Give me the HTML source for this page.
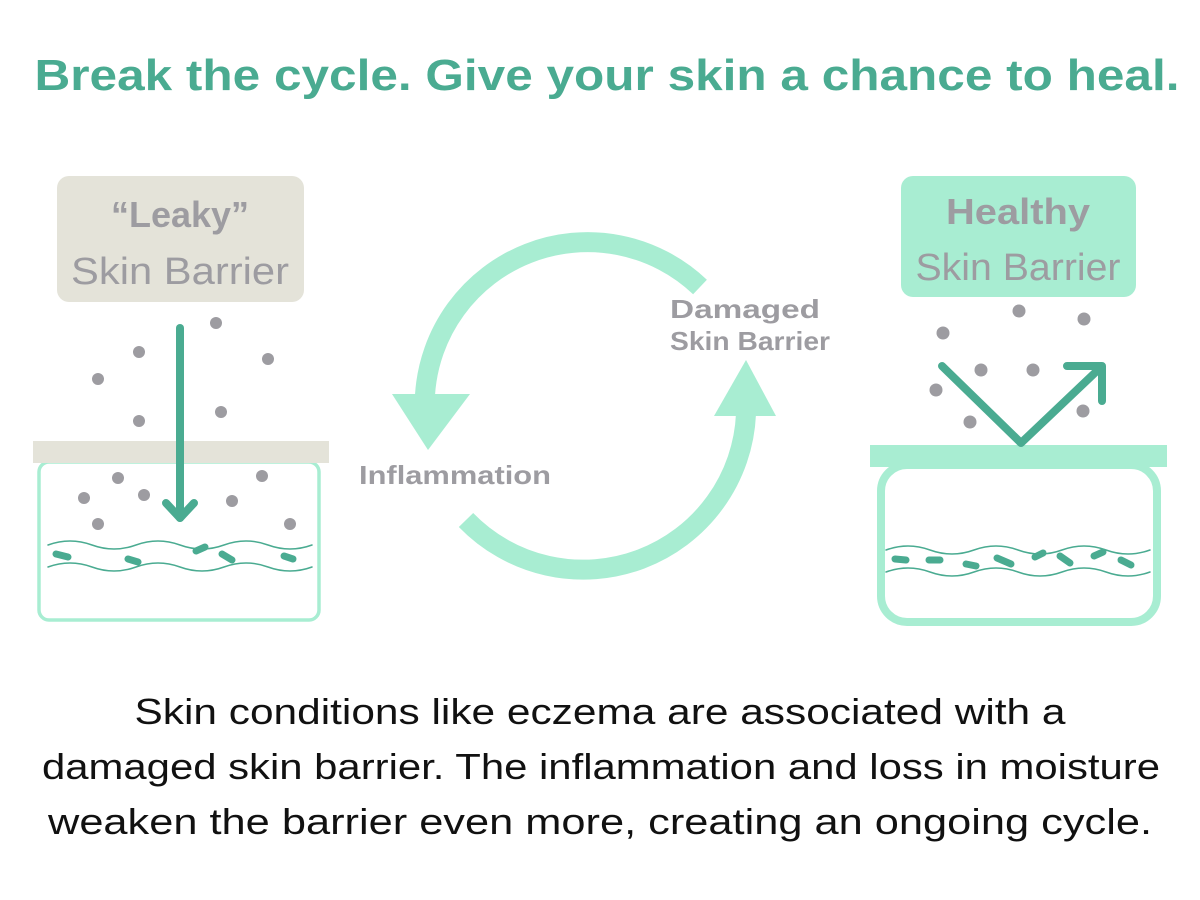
<!DOCTYPE html>
<html><head><meta charset="utf-8"><style>
html,body{margin:0;padding:0;background:#fff;}
svg{display:block;}
text{font-family:"Liberation Sans",sans-serif;}
</style></head><body>
<svg width="1200" height="900" viewBox="0 0 1200 900" xmlns="http://www.w3.org/2000/svg">
<text x="607" y="90" text-anchor="middle" font-size="44" font-weight="bold" fill="#4aab91" textLength="1145" lengthAdjust="spacingAndGlyphs">Break the cycle. Give your skin a chance to heal.</text>

<!-- Left -->
<rect x="57" y="176" width="247" height="126" rx="12" fill="#e4e3d9"/>
<text x="180" y="227" text-anchor="middle" font-size="36" font-weight="bold" fill="#9d9ca1">“Leaky”</text>
<text x="180" y="284" text-anchor="middle" font-size="38" fill="#9d9ca1" textLength="218" lengthAdjust="spacingAndGlyphs">Skin Barrier</text>
<rect x="39" y="462" width="280" height="158" rx="10" fill="none" stroke="#a8edd2" stroke-width="3.5"/>
<rect x="33" y="441" width="296" height="22" fill="#e4e3d9"/>
<g fill="#9d9ca1">
<circle cx="216" cy="323" r="6"/><circle cx="139" cy="352" r="6"/><circle cx="268" cy="359" r="6"/><circle cx="98" cy="379" r="6"/><circle cx="139" cy="421" r="6"/><circle cx="221" cy="412" r="6"/><circle cx="118" cy="478" r="6"/><circle cx="84" cy="498" r="6"/><circle cx="144" cy="495" r="6"/><circle cx="262" cy="476" r="6"/><circle cx="232" cy="501" r="6"/><circle cx="98" cy="524" r="6"/><circle cx="290" cy="524" r="6"/>
</g>
<g stroke="#4aab91" fill="none" stroke-linecap="round">
<line x1="180" y1="328" x2="180" y2="518" stroke-width="8"/>
<polyline points="166,503 180,518 194,503" stroke-width="8" stroke-linejoin="round"/>
<path d="M48,545 q22,-8 44,0 t44,0 t44,0 t44,0 t44,0 t44,0" stroke-width="1.5"/>
<path d="M48,567 q22,-8 44,0 t44,0 t44,0 t44,0 t44,0 t44,0" stroke-width="1.5"/>
<g stroke-width="7">
<line x1="56" y1="554" x2="68" y2="557"/><line x1="128" y1="559" x2="138" y2="562"/><line x1="196" y1="551" x2="205" y2="547"/><line x1="222" y1="554" x2="232" y2="560"/><line x1="284" y1="556" x2="293" y2="559"/>
</g>
</g>

<!-- Cycle -->
<path d="M700,287 A163,163 0 0 0 425,395" fill="none" stroke="#a8edd2" stroke-width="20"/>
<polygon points="392,394 470,394 428,450" fill="#a8edd2"/>
<path d="M466,520 A163,163 0 0 0 746,414" fill="none" stroke="#a8edd2" stroke-width="20"/>
<polygon points="714,416 776,416 746,360" fill="#a8edd2"/>
<text x="745" y="318" text-anchor="middle" font-size="26" font-weight="bold" fill="#9d9ca1" textLength="150" lengthAdjust="spacingAndGlyphs">Damaged</text>
<text x="750" y="350" text-anchor="middle" font-size="26" font-weight="bold" fill="#9d9ca1" textLength="160" lengthAdjust="spacingAndGlyphs">Skin Barrier</text>
<text x="455" y="484" text-anchor="middle" font-size="26" font-weight="bold" fill="#9d9ca1" textLength="192" lengthAdjust="spacingAndGlyphs">Inflammation</text>

<!-- Right -->
<rect x="901" y="176" width="235" height="121" rx="12" fill="#a8edd2"/>
<text x="1018" y="224" text-anchor="middle" font-size="36" font-weight="bold" fill="#9d9ca1" textLength="144" lengthAdjust="spacingAndGlyphs">Healthy</text>
<text x="1018" y="280" text-anchor="middle" font-size="38" fill="#9d9ca1" textLength="205" lengthAdjust="spacingAndGlyphs">Skin Barrier</text>
<rect x="881" y="465" width="276" height="157" rx="26" fill="none" stroke="#a8edd2" stroke-width="8"/>
<rect x="870" y="445" width="297" height="22" fill="#a8edd2"/>
<g fill="#9d9ca1">
<circle cx="943" cy="333" r="6.5"/><circle cx="1019" cy="311" r="6.5"/><circle cx="1084" cy="319" r="6.5"/><circle cx="981" cy="370" r="6.5"/><circle cx="1033" cy="370" r="6.5"/><circle cx="936" cy="390" r="6.5"/><circle cx="1083" cy="411" r="6.5"/><circle cx="970" cy="422" r="6.5"/>
</g>
<g stroke="#4aab91" fill="none" stroke-linecap="round" stroke-linejoin="round">
<polyline points="942,366 1021,443 1100,368" stroke-width="8"/>
<polyline points="1067,366 1102,366 1102,401" stroke-width="8"/>
<path d="M886,550 q22,-8 44,0 t44,0 t44,0 t44,0 t44,0 t44,0" stroke-width="1.5"/>
<path d="M886,572 q22,-8 44,0 t44,0 t44,0 t44,0 t44,0 t44,0" stroke-width="1.5"/>
<g stroke-width="7">
<line x1="895" y1="559" x2="906" y2="560"/><line x1="929" y1="560" x2="940" y2="560"/><line x1="966" y1="564" x2="976" y2="566"/><line x1="997" y1="558" x2="1011" y2="564"/><line x1="1035" y1="557" x2="1043" y2="553"/><line x1="1060" y1="556" x2="1070" y2="563"/><line x1="1094" y1="556" x2="1103" y2="552"/><line x1="1121" y1="560" x2="1131" y2="565"/>
</g>
</g>

<!-- Paragraph -->
<g font-size="36" fill="#111" text-anchor="middle">
<text x="600" y="724" textLength="931" lengthAdjust="spacingAndGlyphs">Skin conditions like eczema are associated with a</text>
<text x="601" y="779" textLength="1118" lengthAdjust="spacingAndGlyphs">damaged skin barrier. The inflammation and loss in moisture</text>
<text x="600" y="834" textLength="1104" lengthAdjust="spacingAndGlyphs">weaken the barrier even more, creating an ongoing cycle.</text>
</g>
</svg>
</body></html>
